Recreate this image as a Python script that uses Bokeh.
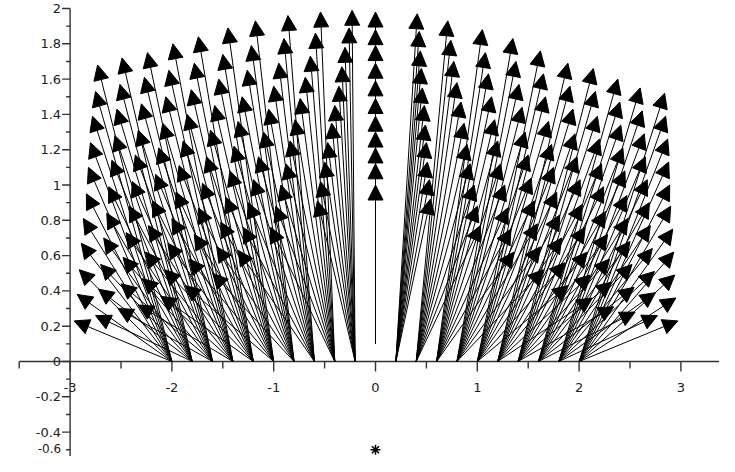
from bokeh.plotting import figure
from bokeh.models import Range1d, Arrow, NormalHead, ColumnDataSource
from bokeh.embed import file_html
from bokeh.resources import INLINE
from bokeh.core.properties import value

# ---------------- data ----------------
# tails of the arrows (one fan of arrows per tail)
tail_x = [-2.0, -1.8, -1.6, -1.4, -1.2, -1.0, -0.8, -0.6, -0.4, -0.2, 0.0,
          0.2, 0.4, 0.6, 0.8, 1.0, 1.2, 1.4, 1.6, 1.8, 2.0]
tail_y = [0, 0, 0, 0, 0, 0, 0, 0, 0, 0, 0.1,
          0, 0, 0, 0, 0, 0, 0, 0, 0, 0]

# arrow tips, one list per level (lowest level first), one value per tail
tip_x_0 = [-2.96, -2.75, -2.53, -2.33, -2.11, -1.87, -1.60, -1.35, -1.03, -0.57, 0, 0.54, 1.03, 1.36, 1.65, 1.89, 2.13, 2.34, 2.55, 2.77, 2.97]
tip_x_1 = [-2.93, -2.72, -2.50, -2.29, -2.07, -1.83, -1.56, -1.30, -0.98, -0.54, 0, 0.53, 1.00, 1.33, 1.62, 1.86, 2.11, 2.32, 2.54, 2.75, 2.95]
tip_x_2 = [-2.91, -2.70, -2.48, -2.26, -2.04, -1.78, -1.52, -1.25, -0.93, -0.50, 0, 0.51, 0.97, 1.30, 1.59, 1.83, 2.08, 2.30, 2.52, 2.74, 2.94]
tip_x_3 = [-2.89, -2.67, -2.45, -2.23, -2.00, -1.74, -1.47, -1.20, -0.88, -0.47, 0, 0.50, 0.93, 1.27, 1.56, 1.81, 2.06, 2.28, 2.50, 2.72, 2.93]
tip_x_4 = [-2.87, -2.64, -2.42, -2.19, -1.96, -1.70, -1.43, -1.15, -0.84, -0.43, 0, 0.49, 0.90, 1.23, 1.53, 1.78, 2.03, 2.26, 2.48, 2.70, 2.92]
tip_x_5 = [-2.84, -2.62, -2.39, -2.16, -1.93, -1.66, -1.39, -1.10, -0.79, -0.40, 0, 0.48, 0.87, 1.20, 1.50, 1.75, 2.01, 2.24, 2.47, 2.69, 2.90]
tip_x_6 = [-2.82, -2.59, -2.36, -2.13, -1.89, -1.62, -1.35, -1.05, -0.74, -0.36, 0, 0.46, 0.84, 1.17, 1.47, 1.73, 1.98, 2.22, 2.45, 2.67, 2.89]
tip_x_7 = [-2.80, -2.56, -2.33, -2.09, -1.85, -1.58, -1.31, -1.00, -0.69, -0.33, 0, 0.45, 0.80, 1.14, 1.44, 1.70, 1.96, 2.20, 2.43, 2.65, 2.88]
tip_x_8 = [-2.78, -2.54, -2.30, -2.06, -1.81, -1.54, -1.26, -0.95, -0.64, -0.30, 0, 0.44, 0.77, 1.11, 1.41, 1.67, 1.94, 2.18, 2.41, 2.64, 2.87]
tip_x_9 = [-2.75, -2.51, -2.27, -2.03, -1.78, -1.50, -1.22, -0.90, -0.59, -0.26, 0, 0.43, 0.74, 1.08, 1.38, 1.65, 1.91, 2.16, 2.40, 2.62, 2.85]
tip_x_10 = [-2.73, -2.49, -2.24, -1.99, -1.74, -1.45, -1.18, -0.86, -0.54, -0.23, 0, 0.41, 0.71, 1.05, 1.35, 1.62, 1.89, 2.14, 2.38, 2.60, 2.84]

tip_y_0 = [0.23, 0.26, 0.30, 0.32, 0.37, 0.43, 0.50, 0.63, 0.76, 0.91, 1.00, 0.92, 0.77, 0.62, 0.52, 0.43, 0.36, 0.31, 0.28, 0.26, 0.23]
tip_y_1 = [0.38, 0.41, 0.44, 0.47, 0.52, 0.58, 0.65, 0.76, 0.88, 1.02, 1.12, 1.03, 0.88, 0.75, 0.65, 0.56, 0.49, 0.45, 0.42, 0.39, 0.36]
tip_y_2 = [0.52, 0.55, 0.59, 0.62, 0.67, 0.72, 0.79, 0.90, 1.00, 1.13, 1.21, 1.13, 1.00, 0.87, 0.78, 0.70, 0.62, 0.58, 0.55, 0.51, 0.49]
tip_y_3 = [0.67, 0.70, 0.73, 0.77, 0.81, 0.87, 0.93, 1.03, 1.12, 1.24, 1.30, 1.24, 1.12, 1.00, 0.91, 0.83, 0.76, 0.72, 0.68, 0.64, 0.62]
tip_y_4 = [0.81, 0.84, 0.88, 0.91, 0.96, 1.01, 1.08, 1.16, 1.25, 1.35, 1.39, 1.34, 1.23, 1.12, 1.04, 0.96, 0.89, 0.85, 0.81, 0.77, 0.75]
tip_y_5 = [0.95, 0.99, 1.02, 1.06, 1.11, 1.16, 1.22, 1.30, 1.37, 1.45, 1.49, 1.45, 1.35, 1.25, 1.17, 1.10, 1.03, 0.99, 0.94, 0.90, 0.88]
tip_y_6 = [1.10, 1.14, 1.17, 1.21, 1.25, 1.31, 1.36, 1.43, 1.49, 1.56, 1.59, 1.55, 1.47, 1.37, 1.30, 1.23, 1.16, 1.12, 1.08, 1.03, 1.00]
tip_y_7 = [1.24, 1.28, 1.31, 1.35, 1.40, 1.45, 1.50, 1.56, 1.61, 1.67, 1.69, 1.66, 1.58, 1.50, 1.44, 1.36, 1.29, 1.26, 1.21, 1.16, 1.13]
tip_y_8 = [1.39, 1.43, 1.46, 1.50, 1.54, 1.60, 1.65, 1.69, 1.73, 1.78, 1.79, 1.76, 1.70, 1.63, 1.57, 1.50, 1.43, 1.39, 1.34, 1.29, 1.26]
tip_y_9 = [1.53, 1.57, 1.61, 1.65, 1.69, 1.74, 1.79, 1.83, 1.86, 1.89, 1.88, 1.87, 1.82, 1.75, 1.70, 1.63, 1.56, 1.53, 1.47, 1.42, 1.39]
tip_y_10 = [1.68, 1.72, 1.75, 1.80, 1.84, 1.89, 1.93, 1.96, 1.98, 1.99, 1.98, 1.97, 1.93, 1.88, 1.83, 1.76, 1.69, 1.66, 1.60, 1.55, 1.52]

# the marked point
star_x = [0.0]
star_y = [-0.5]

# axis ticks and labels
x_major_ticks = [-3, -2, -1, 0, 1, 2, 3]
x_major_labels = ["-3", "-2", "-1", "0", "1", "2", "3"]
x_minor_ticks = [-3.5, -2.5, -1.5, -0.5, 0.5, 1.5, 2.5, 3.5]
y_major_ticks = [-0.4, -0.2, 0.0, 0.2, 0.4, 0.6, 0.8, 1.0, 1.2, 1.4, 1.6, 1.8, 2.0]
y_major_labels = ["-0.4", "-0.2", "0", "0.2", "0.4", "0.6", "0.8", "1", "1.2", "1.4", "1.6", "1.8", "2"]
y_minor_ticks = [-0.5, -0.3, -0.1, 0.1, 0.3, 0.5, 0.7, 0.9, 1.1, 1.3, 1.5, 1.7, 1.9]
y_bottom_label = "-0.6"   # only partly visible at the lower edge in the reference

# ---------------- figure ----------------
W, H = 719, 456
PX_X = 101.8   # pixels per x unit
PX_Y = 176.5   # pixels per y unit
X0 = -375 / PX_X
X1 = X0 + W / PX_X
Y1 = 361 / PX_Y
Y0 = Y1 - H / PX_Y
dx = 1 / PX_X
dy = 1 / PX_Y

p = figure(width=W, height=H, output_backend="svg", toolbar_location=None,
           x_range=Range1d(X0, X1), y_range=Range1d(Y0, Y1),
           x_axis_location=None, y_axis_location=None, min_border=0)
p.grid.visible = False
p.outline_line_color = None
p.background_fill_color = "white"
p.border_fill_color = "white"

AX = "#333333"
FONT = value("DejaVu Sans")
FS = "13px"

# axes
p.segment(x0=[-3.5], y0=[0], x1=[3.5], y1=[0], line_color=AX, line_width=1.4)
p.segment(x0=[-3], y0=[2.0], x1=[-3], y1=[Y0], line_color=AX, line_width=1.4)

p.segment(x0=x_major_ticks, y0=[0] * len(x_major_ticks), x1=x_major_ticks,
          y1=[-10 * dy] * len(x_major_ticks), line_color=AX, line_width=1.4)
p.segment(x0=x_minor_ticks, y0=[0] * len(x_minor_ticks), x1=x_minor_ticks,
          y1=[-7 * dy] * len(x_minor_ticks), line_color=AX, line_width=1.4)
p.segment(x0=[-3] * len(y_major_ticks), y0=y_major_ticks, x1=[-3 - 8 * dx] * len(y_major_ticks),
          y1=y_major_ticks, line_color=AX, line_width=1.4)
p.segment(x0=[-3] * len(y_minor_ticks), y0=y_minor_ticks, x1=[-3 - 4 * dx] * len(y_minor_ticks),
          y1=y_minor_ticks, line_color=AX, line_width=1.4)

p.text(x=x_major_ticks, y=[-26 * dy] * len(x_major_ticks), text=x_major_labels,
       text_font=FONT, text_font_size=FS, text_align="center",
       text_baseline="middle", text_color="#222222")
p.text(x=[-3 - 9 * dx] * len(y_major_ticks), y=y_major_ticks, text=y_major_labels,
       text_font=FONT, text_font_size=FS, text_align="right",
       text_baseline="middle", text_color="#222222")
p.text(x=[-3 - 9 * dx], y=[Y0 + 4 * dy], text=[y_bottom_label],
       text_font=FONT, text_font_size="12px", text_align="right",
       text_baseline="bottom", text_color="#222222")

# arrows
tips_x = [tip_x_0, tip_x_1, tip_x_2, tip_x_3, tip_x_4, tip_x_5, tip_x_6, tip_x_7, tip_x_8, tip_x_9, tip_x_10]
tips_y = [tip_y_0, tip_y_1, tip_y_2, tip_y_3, tip_y_4, tip_y_5, tip_y_6, tip_y_7, tip_y_8, tip_y_9, tip_y_10]
xs0, ys0, xs1, ys1 = [], [], [], []
for rx, ry in zip(tips_x, tips_y):
    for i in range(len(tail_x)):
        xs0.append(tail_x[i]); ys0.append(tail_y[i])
        xs1.append(rx[i]); ys1.append(ry[i])
src = ColumnDataSource(dict(x0=xs0, y0=ys0, x1=xs1, y1=ys1))
p.add_layout(Arrow(source=src, x_start="x0", y_start="y0", x_end="x1", y_end="y1",
                   line_color="black", line_width=1,
                   end=NormalHead(size=15, fill_color="black", line_color="black", line_width=1)))

# marked point
p.scatter(x=star_x, y=star_y, marker="asterisk", size=10, line_color="black", line_width=1.5)

open("out.html", "w").write(file_html(p, INLINE))
